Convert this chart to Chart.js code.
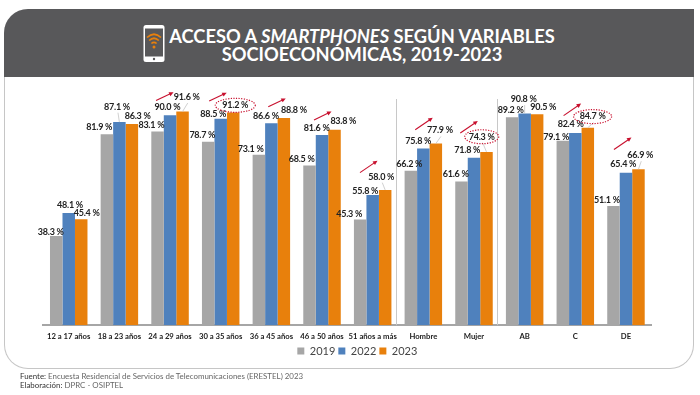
<!DOCTYPE html>
<html>
<head>
<meta charset="utf-8">
<script src="https://cdn.jsdelivr.net/npm/chart.js@4"></script>
<style>
html, body { margin: 0; padding: 0; background: #fff; }
#page { position: relative; width: 700px; height: 395px; overflow: hidden; font-family: Lato, sans-serif; }
#panel { position: absolute; left: 4px; top: 9px; width: 688px; height: 359px; border: 1.5px solid #c6c6c6; border-top: 0; border-radius: 24px 0 24px 24px; }
#header { position: absolute; left: 4px; top: 9px; width: 690px; height: 68px; background: #58585a; border-radius: 24px 0 0 0; }
#title { position: absolute; left: 162px; width: 400px; top: 26.5px; color: #fff; font-size: 18.3px; line-height: 18.5px; font-weight: 700; text-align: center; white-space: nowrap; }
#phone { position: absolute; left: 143px; top: 25px; }
#foot { position: absolute; left: 20px; top: 372px; font-size: 7.9px; line-height: 9.2px; color: #666; }
#foot b { color: #333; font-weight: 400; }
canvas { position: absolute; left: 0; top: 0; }
</style>
</head>
<body>
<div id="page">
    <div id="panel"></div>
    <div id="header"></div>
    <svg id="phone" width="23" height="38" viewBox="0 0 23 38">
        <rect x="0.5" y="0" width="21" height="37" rx="2.5" fill="#fff"/>
        <rect x="2" y="3.5" width="18" height="28" fill="#58585a"/>
        <circle cx="11" cy="34" r="1.2" fill="#58585a"/>
        <path d="M4 12.5 Q11 6 18 12.5 M6.2 15.5 Q11 11 15.8 15.5 M8.4 18.5 Q11 16.1 13.6 18.5" stroke="#e8800c" stroke-width="1.7" fill="none"/>
        <circle cx="11" cy="22" r="1.5" fill="#e8800c"/>
    </svg>
    <div id="title">ACCESO A <i>SMARTPHONES</i> SEGÚN VARIABLES<br>SOCIOECONÓMICAS, 2019-2023</div>
    <canvas id="chart" width="700" height="395"></canvas>
    <div id="foot"><b>Fuente:</b> Encuesta Residencial de Servicios de Telecomunicaciones (ERESTEL) 2023<br><b>Elaboración:</b> DPRC - OSIPTEL</div>
</div>
<script>
var categories = ['12 a 17 años', '18 a 23 años', '24 a 29 años', '30 a 35 años', '36 a 45 años', '46 a 50 años', '51 años a más', 'Hombre', 'Mujer', 'AB', 'C', 'DE'];
var values2019 = [38.3, 81.9, 83.1, 78.7, 73.1, 68.5, 45.3, 66.2, 61.6, 89.2, 79.1, 51.1];
var values2022 = [48.1, 87.1, 90.0, 88.5, 86.6, 81.6, 55.8, 75.8, 71.8, 90.8, 82.4, 65.4];
var values2023 = [45.4, 86.3, 91.6, 91.2, 88.8, 83.8, 58.0, 77.9, 74.3, 90.5, 84.7, 66.9];

// label nudges from the top of each bar, px
var nudge2019 = [[-5.5, -4], [-7.6, -7.4], [-6.2, -6.8], [-5.9, -6.2], [-8.2, -6.1], [-7.8, -5.9], [-11, -5.5], [-1.6, -6.3], [-5.8, -7.1], [-1.5, -6.9], [-6.6, -3.2], [-6.5, -5.8]];
var nudge2022 = [[1.3, -8.2], [-2.4, -15.4], [-2.7, -8], [-7.4, -4.6], [-5.4, -7.6], [-5.3, -6.4], [-7.4, -4.1], [-5.1, -7], [-6.7, -8.1], [-1, -14.4], [-4.7, -9.2], [-2.7, -8.5]];
var nudge2023 = [[5.5, -5.9], [5.8, -8.3], [4.2, -14.6], [2.1, -7.2], [10.1, -8.1], [8.8, -8.2], [-3.9, -13.3], [4.1, -13.1], [-4.8, -15.2], [6.1, -6.8], [4.8, -11.1], [1.8, -14]];
var nudges = [nudge2019, nudge2022, nudge2023];

// categories with a red arrow, and the offset of its tail from the orange bar top
var arrowCats = [2, 3, 4, 5, 6, 7, 8, 10, 11];
var arrowDx = [-26.5, -24, -15.6, -20.5, -25.2, -20.6, -26.2, -24.2, -24.5];
var arrowDy = [-11, -11.5, -11.4, -9.9, -17.3, -13.8, -18.9, -12.1, -19.7];
// categories with a dotted ring round the 2023 label
var ringCats = [3, 8, 10];

var labelsPlugin = {
    id: 'labels',
    afterLayout: function(chart) {
        // legend sits a bit right of the plot centre
        chart.legend.left += 10;
        chart.legend.right += 10;
    },
    afterDatasetsDraw: function(chart) {
        var ctx = chart.ctx;
        var area = chart.chartArea;
        var xs = chart.scales.x;
        var i, d;

        // separators between age, sex and level groups
        ctx.save();
        ctx.strokeStyle = '#c8c8c8';
        ctx.lineWidth = 1;
        [7, 9].forEach(function(k) {
            var x = Math.round(xs.getPixelForTick(k) - (xs.getPixelForTick(1) - xs.getPixelForTick(0)) / 2 - 2) + 0.5;
            ctx.beginPath();
            ctx.moveTo(x, area.top + 7);
            ctx.lineTo(x, area.bottom);
            ctx.stroke();
        });

        ctx.font = 'bold 9px Lato, sans-serif';
        ctx.letterSpacing = '-0.25px';
        ctx.textAlign = 'center';
        ctx.textBaseline = 'middle';
        for (d = 0; d < 3; d++) {
            var meta = chart.getDatasetMeta(d);
            var vals = chart.data.datasets[d].data;
            for (i = 0; i < vals.length; i++) {
                var bar = meta.data[i];
                var lx = bar.x + nudges[d][i][0];
                var ly = bar.y + nudges[d][i][1];
                // thin leader for labels lifted off their bar
                if (nudges[d][i][1] < -11) {
                    ctx.strokeStyle = '#c4c4c4';
                    ctx.lineWidth = 0.8;
                    ctx.beginPath();
                    ctx.moveTo(bar.x, bar.y);
                    ctx.lineTo(lx + 1, ly + 6);
                    ctx.stroke();
                }
                ctx.fillStyle = '#222';
                ctx.fillText(vals[i].toFixed(1) + ' %', lx, ly);
            }
        }
        ctx.letterSpacing = '0px';

        // red arrows
        var orange = chart.getDatasetMeta(2);
        ctx.strokeStyle = '#c8102e';
        ctx.fillStyle = '#c8102e';
        arrowCats.forEach(function(c, n) {
            var bar = orange.data[c];
            var x0 = bar.x + arrowDx[n], y0 = bar.y + arrowDy[n];
            var x1 = x0 + 17.5, y1 = y0 - (c > 5 ? 12 : 8.3);
            var a = Math.atan2(y1 - y0, x1 - x0);
            ctx.lineWidth = 1.1;
            ctx.beginPath();
            ctx.moveTo(x0, y0);
            ctx.lineTo(x1 - 3 * Math.cos(a), y1 - 3 * Math.sin(a));
            ctx.stroke();
            ctx.beginPath();
            ctx.moveTo(x1, y1);
            ctx.lineTo(x1 - 5 * Math.cos(a - 0.45), y1 - 5 * Math.sin(a - 0.45));
            ctx.lineTo(x1 - 5 * Math.cos(a + 0.45), y1 - 5 * Math.sin(a + 0.45));
            ctx.closePath();
            ctx.fill();
        });

        // dotted rings
        ctx.strokeStyle = '#c8102e';
        ctx.lineWidth = 1.2;
        ctx.setLineDash([1.2, 1.4]);
        ringCats.forEach(function(c) {
            var bar = orange.data[c];
            ctx.beginPath();
            ctx.ellipse(bar.x + nudge2023[c][0], bar.y + nudge2023[c][1], c == 3 ? 20 : (c == 8 ? 17 : 19), 7, 0, 0, Math.PI * 2);
            ctx.stroke();
        });
        ctx.restore();
    }
};

var chart = new Chart(document.getElementById('chart'), {
    type: 'bar',
    data: {
        labels: categories,
        datasets: [
            { label: '2019', data: values2019, backgroundColor: '#a6a6a6' },
            { label: '2022', data: values2022, backgroundColor: '#4f81bd' },
            { label: '2023', data: values2023, backgroundColor: '#e8800c' }
        ]
    },
    plugins: [labelsPlugin],
    options: {
        responsive: false,
        animation: false,
        layout: { padding: { left: 43.4, right: 48.7, top: 92, bottom: 28.4 } },
        datasets: { bar: { categoryPercentage: 0.74, barPercentage: 1 } },
        scales: {
            x: {
                afterFit: function(axis) { axis.height = 17.4; },
                grid: { display: false, drawTicks: false },
                border: { color: '#a6a6a6', width: 2 },
                ticks: { color: '#222', font: { family: 'Lato, sans-serif', size: 7.7, weight: 'bold' }, padding: 7, maxRotation: 0, autoSkip: false }
            },
            y: { display: false, min: 0, max: 100 }
        },
        plugins: {
            tooltip: { enabled: false },
            legend: {
                position: 'bottom',
                labels: { boxWidth: 7, boxHeight: 7, padding: 3, color: '#444', font: { family: 'Lato, sans-serif', size: 11 } }
            }
        }
    }
});
</script>
</body>
</html>
